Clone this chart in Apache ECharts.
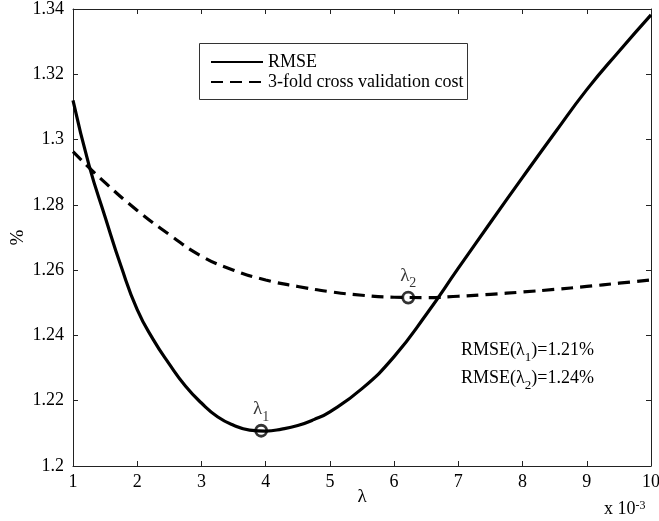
<!DOCTYPE html>
<html>
<head>
<meta charset="utf-8">
<script src="https://cdn.jsdelivr.net/npm/echarts@6/dist/echarts.min.js"></script>
<style>
  html, body { margin: 0; padding: 0; background: #fff; }
  #chart { width: 659px; height: 521px; }
</style>
</head>
<body>
<div id="chart"></div>
<script>
// lambda (x 10^-3) and the two curves
const rmseLambda = [1, 1.25, 1.5, 1.75, 2, 2.25, 2.5, 2.75, 3, 3.25, 3.5, 3.75, 4, 4.25, 4.5, 4.75, 5, 5.5, 6, 6.5, 7, 7.5, 8, 8.5, 9, 9.5, 10];
const rmseValues = [1.3120, 1.2921, 1.2763, 1.2611, 1.2479, 1.2387, 1.2312, 1.2245, 1.2193, 1.2151, 1.2125, 1.2110, 1.2107, 1.2113, 1.2124, 1.2142, 1.2166, 1.2237, 1.2335, 1.2464, 1.2606, 1.2746, 1.2884, 1.3020, 1.3153, 1.3270, 1.3382];

const cvLambda = [1, 1.5, 2, 2.5, 3, 3.5, 4, 4.5, 5, 5.5, 6, 6.5, 7, 7.5, 8, 8.5, 9, 9.5, 10];
const cvValues = [1.2963, 1.2868, 1.2783, 1.2709, 1.2643, 1.2600, 1.2570, 1.2550, 1.2534, 1.2523, 1.2517, 1.2516, 1.2520, 1.2526, 1.2533, 1.2541, 1.2550, 1.2560, 1.2570];

const minPoints = [[3.93, 1.2108, '1'], [6.22, 1.2516, '2']];
const noteLines = [['1', '1.21%'], ['2', '1.24%']];

const font = 'Liberation Serif';
const chart = echarts.init(document.getElementById('chart'));

const pairs = (xs, ys) => xs.map((x, i) => [x, ys[i]]);

const tickStyle = { show: true, inside: true, length: 5, lineStyle: { color: '#222', width: 1 } };
const lineStyleAxis = { show: true, lineStyle: { color: '#222', width: 1 } };

const option = {
  animation: false,
  backgroundColor: '#fff',
  grid: { left: 73, right: 8, top: 9, bottom: 55, containLabel: false, outerBoundsMode: 'none' },
  legend: {
    orient: 'vertical',
    left: 210,
    top: 52,
    padding: 0,
    itemWidth: 52,
    itemHeight: 20,
    itemGap: 0,
    selectedMode: false,
    itemStyle: { color: 'rgba(0,0,0,0)', borderWidth: 0 },
    textStyle: { fontFamily: font, fontSize: 18, color: '#000', lineHeight: 20 },
    data: ['RMSE', '3-fold cross validation cost']
  },
  xAxis: [
    {
      type: 'value', min: 1, max: 10, interval: 1,
      axisLine: lineStyleAxis, axisTick: tickStyle, splitLine: { show: false },
      axisLabel: { fontFamily: font, fontSize: 18, color: '#000', margin: 7 },
      name: 'λ', nameLocation: 'middle', nameGap: 22, nameMoveOverlap: false,
      nameTextStyle: { fontFamily: font, fontSize: 19, color: '#000' }
    },
    {
      type: 'value', min: 1, max: 10, interval: 1, position: 'top',
      axisLine: lineStyleAxis, axisTick: tickStyle, splitLine: { show: false },
      axisLabel: { show: false }
    }
  ],
  yAxis: [
    {
      type: 'value', min: 1.2, max: 1.34, interval: 0.02,
      axisLine: lineStyleAxis, axisTick: tickStyle, splitLine: { show: false },
      axisLabel: {
        fontFamily: font, fontSize: 18, color: '#000', margin: 9,
        formatter: v => String(+v.toFixed(2))
      },
      name: '%', nameLocation: 'middle', nameGap: 45, nameRotate: 90, nameMoveOverlap: false,
      nameTextStyle: { fontFamily: font, fontSize: 19, color: '#000' }
    },
    {
      type: 'value', min: 1.2, max: 1.34, interval: 0.02, position: 'right',
      axisLine: lineStyleAxis, axisTick: tickStyle, splitLine: { show: false },
      axisLabel: { show: false }
    }
  ],
  series: [
    {
      name: 'RMSE', type: 'line', symbol: 'none', smooth: 0.5,
      lineStyle: { color: '#000', width: 3.2 },
      itemStyle: { color: '#000' },
      data: pairs(rmseLambda, rmseValues)
    },
    {
      name: '3-fold cross validation cost', type: 'line', symbol: 'none', smooth: 0.5,
      lineStyle: { color: '#000', width: 3.2, type: [12, 7] },
      itemStyle: { color: '#000' },
      data: pairs(cvLambda, cvValues)
    },
    {
      type: 'scatter', symbol: 'circle', symbolSize: 11, z: 5,
      itemStyle: { color: 'rgba(0,0,0,0)', borderColor: '#000', borderWidth: 2.8 },
      label: {
        show: true, position: 'top', distance: 5, color: '#000',
        formatter: p => '{a|λ}{b|' + p.data[2] + '}',
        rich: {
          a: { fontFamily: font, fontSize: 19, color: '#000', lineHeight: 20 },
          b: { fontFamily: font, fontSize: 14, color: '#000', verticalAlign: 'bottom', lineHeight: 14, padding: [0, 0, -5, 0] }
        }
      },
      data: minPoints
    }
  ],
  graphic: [
    {
      type: 'rect', left: 199, top: 43, z: 0,
      shape: { width: 268, height: 56 },
      style: { fill: '#fff', stroke: '#333', lineWidth: 1 }
    },
    ...noteLines.map((n, i) => ({
      type: 'text', left: 461, top: 341 + i * 28, z: 10,
      style: {
        text: '{a|RMSE(λ}{b|' + n[0] + '}{a|)=' + n[1] + '}',
        rich: {
          a: { fontFamily: font, fontSize: 18, fill: '#000', lineHeight: 20 },
          b: { fontFamily: font, fontSize: 13, fill: '#000', verticalAlign: 'bottom', lineHeight: 13, padding: [0, 0, -4, 0] }
        }
      }
    })),
    {
      type: 'text', left: 604, top: 500, z: 10,
      style: {
        text: '{a|x 10}{b|-3}',
        rich: {
          a: { fontFamily: font, fontSize: 18, fill: '#000', lineHeight: 19 },
          b: { fontFamily: font, fontSize: 12, fill: '#000', verticalAlign: 'top', lineHeight: 12 }
        }
      }
    }
  ]
};

chart.setOption(option);
</script>
</body>
</html>
